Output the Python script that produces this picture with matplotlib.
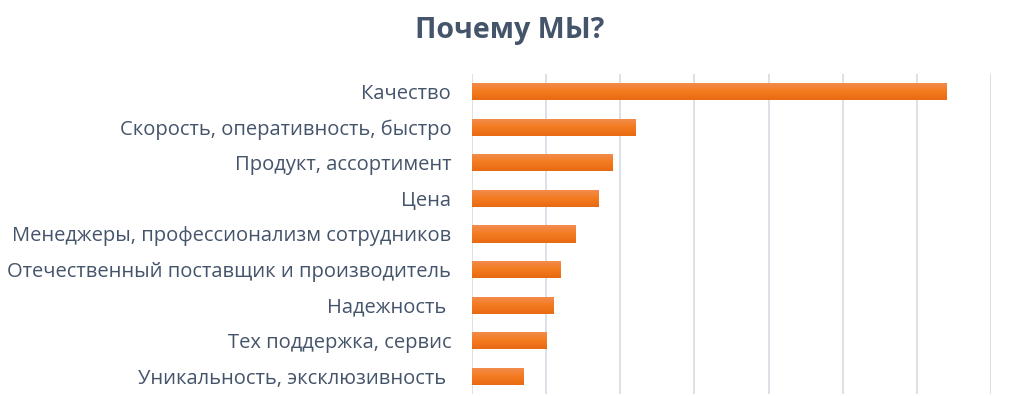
import numpy as np
import matplotlib
matplotlib.use("Agg")
import matplotlib.pyplot as plt
from matplotlib.colors import LinearSegmentedColormap

plt.rcParams['font.family'] = ['Open Sans', 'DejaVu Sans']

categories = ['Качество', 'Скорость, оперативность, быстро', 'Продукт, ассортимент',
              'Цена', 'Менеджеры, профессионализм сотрудников',
              'Отечественный поставщик и производитель', 'Надежность ',
              'Тех поддержка, сервис', 'Уникальность, эксклюзивность ']
values = [64, 22, 19, 17, 14, 12, 11, 10, 7]
title = 'Почему МЫ?'

text_col = '#44546A'
grid_col = '#D9DEE6'
grad = LinearSegmentedColormap.from_list('og', ['#F28E52', '#F47B20', '#E86A12'])

fig = plt.figure(figsize=(10.22, 3.96), dpi=100)
ax = fig.add_axes([0.4618, 0.0043, 0.5079, 0.8096])

y = np.arange(len(categories))
bars = ax.barh(y, values, height=0.48, color='#F47B20', zorder=2)

# gradient fill, light on top, darker at bottom
g = np.linspace(0, 1, 64).reshape(-1, 1)
for b in bars:
    x0, y0 = b.get_x(), b.get_y()
    w, h = b.get_width(), b.get_height()
    im = ax.imshow(g, cmap=grad, aspect='auto', extent=[x0, x0 + w, y0 + h, y0],
                   origin='upper', zorder=3)
    im.set_clip_path(b)
ax.set_xlim(0, 70)
ax.set_ylim(len(categories) - 0.5, -0.5)

ax.set_xticks(np.arange(0, 71, 10))
ax.xaxis.grid(True, color=grid_col, linewidth=1.3, zorder=0)
ax.tick_params(axis='x', length=0, labelbottom=False)
ax.set_yticks(y)
ax.set_yticklabels(categories, fontsize=14.5, color=text_col)
ax.tick_params(axis='y', length=0, pad=15)
for s in ax.spines.values():
    s.set_visible(False)

fig.text(0.499, 0.922, title, ha='center', va='center', fontsize=20.6,
         fontweight='bold', color=text_col)

fig.savefig('out.png', dpi=100)
